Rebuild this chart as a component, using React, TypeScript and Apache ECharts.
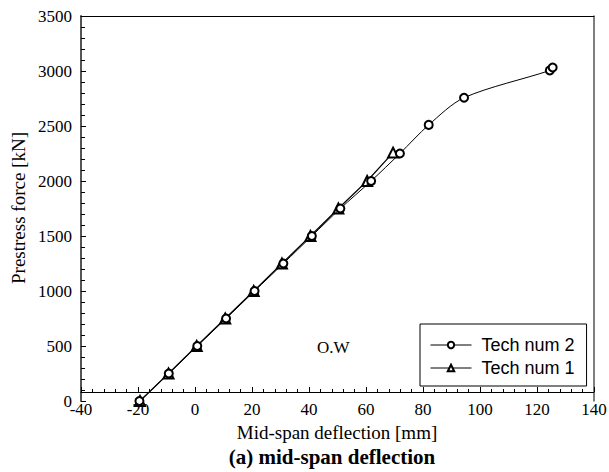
import React, { useEffect, useRef } from "react";
import * as echarts from "echarts";

const tech2X = [-19.5, -9.2, 0.8, 10.9, 20.9, 31, 41, 51, 61.8, 71.9, 82, 94.4, 124.5, 125.5];
const tech2Y = [0, 250, 500, 750, 1000, 1250, 1500, 1750, 2000, 2250, 2510, 2757, 3005, 3032];
const tech1X = [-19.3, -9.3, 0.6, 10.6, 20.6, 30.5, 40.5, 50.3, 60.4, 69.5];
const tech1Y = [0, 250, 500, 750, 1000, 1250, 1500, 1750, 2000, 2258];
const xTicks = [-40, -20, 0, 20, 40, 60, 80, 100, 120, 140];
const yTicks = [0, 500, 1000, 1500, 2000, 2500, 3000, 3500];

const SERIF = "Liberation Serif";
const SANS = "Liberation Sans";

export default function App() {
  const ref = useRef<HTMLDivElement>(null);
  useEffect(() => {
    document.body.style.margin = "0";
    const chart = echarts.init(ref.current!, null, { renderer: "svg" });
    const pair = (xs: number[], ys: number[]) => xs.map((x, i) => [x, ys[i]]);
    const staticGraphics: any[] = [
      {
        type: "text",
        left: 317,
        top: 339,
        style: { text: "O.W", font: `17px ${SERIF}`, fill: "#000" },
      },
      {
        type: "text",
        x: 18,
        y: 208,
        rotation: Math.PI / 2,
        style: {
          text: "Prestress force [kN]",
          font: `19px ${SERIF}`,
          fill: "#000",
          align: "center",
          verticalAlign: "middle",
        },
      },
      {
        type: "text",
        x: 337,
        y: 432,
        style: {
          text: "Mid-span deflection [mm]",
          font: `19px ${SERIF}`,
          fill: "#000",
          align: "center",
          verticalAlign: "middle",
        },
      },
      {
        type: "text",
        x: 332,
        y: 457,
        style: {
          text: "(a) mid-span deflection",
          font: `bold 21px ${SERIF}`,
          fill: "#000",
          align: "center",
          verticalAlign: "middle",
        },
      },
    ];
    chart.setOption({
      animation: false,
      backgroundColor: "#fff",
      grid: { left: 81, top: 16, width: 513, height: 385 },
      xAxis: [
        {
          type: "value",
          min: -40,
          max: 140,
          interval: 20,
          axisLine: { show: true, onZero: true, onZeroAxisIndex: 1, lineStyle: { color: "#000", width: 1 } },
          axisTick: { show: true, inside: true, length: 5, lineStyle: { color: "#000" } },
          minorTick: { show: true, splitNumber: 5, length: 3, lineStyle: { color: "#000" } },
          splitLine: { show: false },
          axisLabel: { show: false },
        },
        {
          type: "value",
          position: "top",
          min: -40,
          max: 140,
          axisLine: { show: true, onZero: false, lineStyle: { color: "#000", width: 1 } },
          axisTick: { show: false },
          axisLabel: { show: false },
          splitLine: { show: false },
        },
      ],
      yAxis: [
        {
          type: "value",
          min: 0,
          max: 3500,
          interval: 500,
          axisLine: { show: true, onZero: false, lineStyle: { color: "#555", width: 2 } },
          axisTick: { show: true, inside: true, length: 5, lineStyle: { color: "#000" } },
          minorTick: { show: true, splitNumber: 5, length: 4, lineStyle: { color: "#000" } },
          splitLine: { show: false },
          axisLabel: { show: false },
        },
        {
          type: "value",
          position: "right",
          min: -82,
          max: 3418,
          axisLine: { show: true, onZero: false, lineStyle: { color: "#555", width: 1.5 } },
          axisTick: { show: false },
          axisLabel: { show: false },
          splitLine: { show: false },
        },
      ],
      legend: {
        orient: "vertical",
        left: 420,
        top: 324,
        padding: [12, 12, 9, 10],
        itemGap: 5,
        itemWidth: 41,
        itemHeight: 8,
        borderColor: "#000",
        borderWidth: 1,
        selectedMode: false,
        lineStyle: { width: 1 },
        itemStyle: { borderWidth: 1 },
        textStyle: { fontFamily: SANS, fontSize: 18, color: "#000", padding: [0, 0, 0, 5] },
        data: ["Tech num 2", "Tech num 1"],
      },
      graphic: staticGraphics,
      series: [
        {
          name: "Tech num 2",
          type: "line",
          data: pair(tech2X, tech2Y),
          smooth: 0.3,
          symbol: "emptyCircle",
          symbolSize: 8,
          lineStyle: { color: "#000", width: 1 },
          itemStyle: { color: "#000", borderWidth: 0.8 },
          z: 3,
        },
        {
          name: "Tech num 1",
          type: "line",
          data: pair(tech1X, tech1Y),
          symbol: "emptyTriangle",
          symbolSize: 10,
          lineStyle: { color: "#000", width: 1.2 },
          itemStyle: { color: "#000", borderWidth: 1 },
          z: 2,
        },
      ],
    });
    const axisY = chart.convertToPixel({ yAxisIndex: 1 }, 0) as number;
    const yAxisX = chart.convertToPixel({ xAxisIndex: 0 }, -40) as number;
    const tickTexts: any[] = [
      ...xTicks.map((v) => ({
        type: "text",
        x: chart.convertToPixel({ xAxisIndex: 0 }, v) as number,
        y: axisY + 18,
        style: {
          text: String(v),
          font: `17px ${SERIF}`,
          fill: "#000",
          align: "center",
          verticalAlign: "middle",
        },
      })),
      ...yTicks.map((v) => ({
        type: "text",
        x: yAxisX - 9,
        y: chart.convertToPixel({ yAxisIndex: 0 }, v) as number,
        style: {
          text: String(v),
          font: `17px ${SERIF}`,
          fill: "#000",
          align: "right",
          verticalAlign: "middle",
        },
      })),
    ];
    chart.setOption({ graphic: [...staticGraphics, ...tickTexts] });
    return () => chart.dispose();
  }, []);
  return <div ref={ref} style={{ width: 609, height: 472 }} />;
}
